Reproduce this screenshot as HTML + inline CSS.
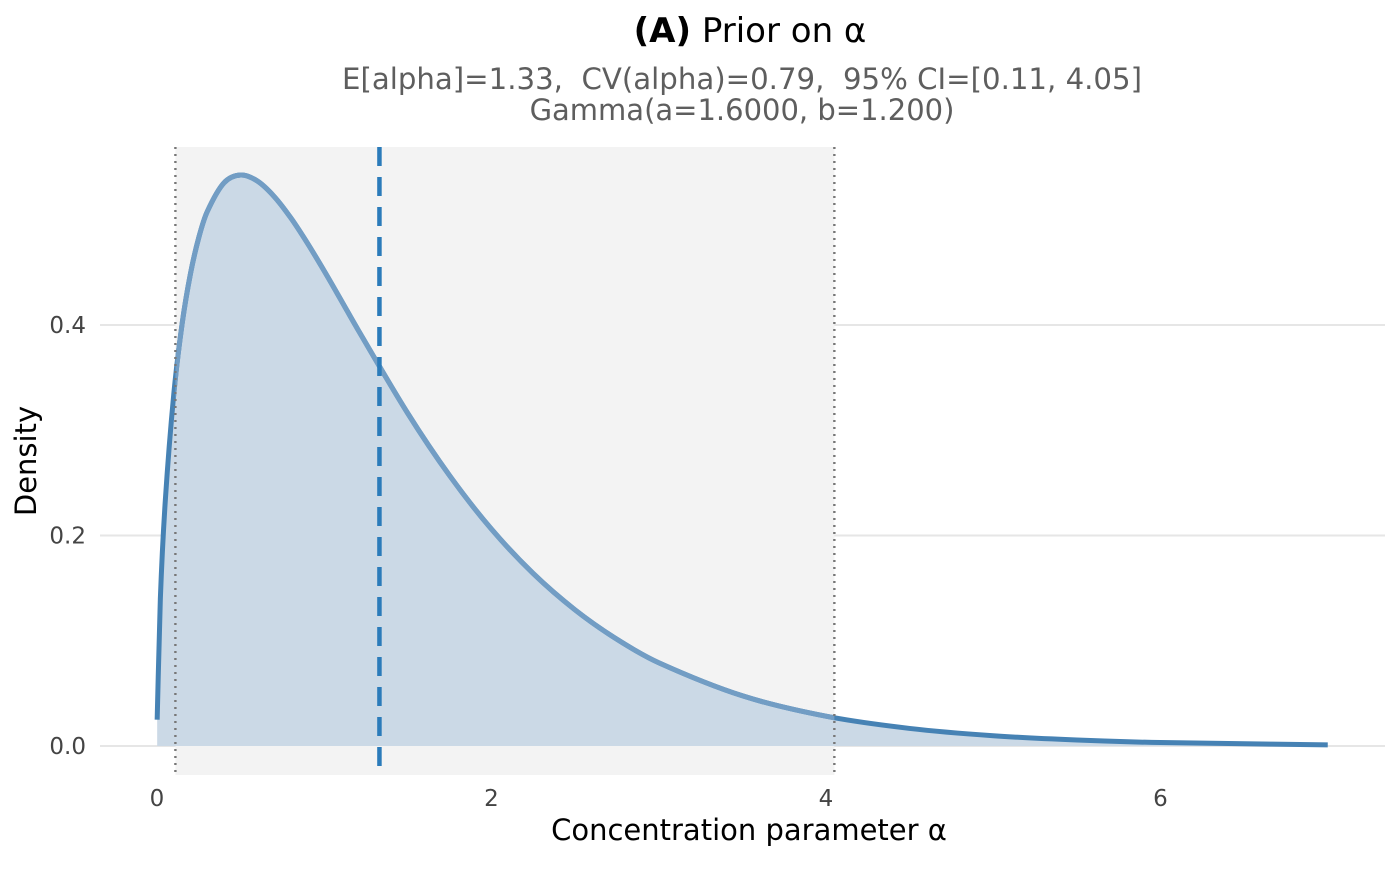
<!DOCTYPE html>
<html><head><meta charset="utf-8"><style>
body{margin:0;background:#fff;}
svg text{font-family:"DejaVu Sans","Liberation Sans",sans-serif;white-space:pre;}
</style></head><body>
<svg width="1400" height="866" viewBox="0 0 1400 866" xmlns="http://www.w3.org/2000/svg">
<text x="750" y="42" text-anchor="middle" font-size="34" fill="#000"><tspan font-weight="bold">(A)</tspan> Prior on α</text>
<text x="742" y="89" text-anchor="middle" font-size="29" textLength="800" lengthAdjust="spacingAndGlyphs" fill="#5e5e5e" xml:space="preserve">E[alpha]=1.33,  CV(alpha)=0.79,  95% CI=[0.11, 4.05]</text>
<text x="742" y="120" text-anchor="middle" font-size="29" fill="#5e5e5e">Gamma(a=1.6000, b=1.200)</text>
<g id="plot"></g>
<text x="749" y="840" text-anchor="middle" font-size="29" fill="#000">Concentration parameter α</text>
<text transform="translate(36,461) rotate(-90)" text-anchor="middle" font-size="29" fill="#000">Density</text>
</svg>
<script>
const xs=[0.001,0.02,0.05,0.1,0.15,0.2,0.25,0.3,0.4,0.5,0.6,0.7,0.8,0.9,1.0,1.1,1.2,1.5,1.75,2.0,2.25,2.5,2.75,3.0,3.5,4.0,4.5,5.0,5.5,6.0,7.0];
const ys=[0.025,0.1398,0.234,0.3338,0.401,0.4487,0.4832,0.5076,0.535,0.5425,0.5368,0.5222,0.5018,0.4776,0.4513,0.4238,0.396,0.3159,0.2568,0.206,0.1638,0.1293,0.1014,0.0791,0.0477,0.0283,0.0167,0.00975,0.00567,0.00328,0.00108];
const xTicks=[0,2,4,6];
const yTicks=[0,0.2,0.4];
const ciLow=0.11, ciHigh=4.05, meanVal=1.33;
const NS="http://www.w3.org/2000/svg";
const X=v=>157+v*167.25, Y=v=>746-v*1052.5;
const g=document.getElementById('plot');
function mk(t,a){const e=document.createElementNS(NS,t);for(const k in a)e.setAttribute(k,a[k]);g.appendChild(e);return e;}
yTicks.forEach(t=>{
 const l=mk('line',{x1:100,x2:1385,y1:Y(t),y2:Y(t),stroke:'#e6e6e6','stroke-width':2});
 
 
 const tx=mk('text',{x:86,y:Y(t)+8,'text-anchor':'end','font-size':23,fill:'#444'});tx.textContent=t.toFixed(1);
 
 
});
xTicks.forEach(t=>{
 const tx=mk('text',{x:X(t),y:806,'text-anchor':'middle','font-size':23,fill:'#444'});tx.textContent=t;
 
 
});
const band=mk('rect',{x:X(ciLow),y:147,width:X(ciHigh)-X(ciLow),height:628,fill:'#f3f3f3'});


function pathD(){const pts=xs.map((x,i)=>[X(x),Y(ys[i])]);const n=pts.length;
 const m=pts.map((p,i)=>{const a=pts[Math.max(0,i-1)],b=pts[Math.min(n-1,i+1)];return (b[1]-a[1])/(b[0]-a[0]);});
 let d='M'+pts[0].join(',');
 for(let i=0;i<n-1;i++){const p1=pts[i],p2=pts[i+1],h=(p2[0]-p1[0])/3;
  d+=` C${p1[0]+h},${p1[1]+m[i]*h} ${p2[0]-h},${p2[1]-m[i+1]*h} ${p2[0]},${p2[1]}`;}
 return d;}
const d=pathD();
const area=mk('path',{d:d+` L${X(xs[xs.length-1])},${Y(0)} L${X(xs[0])},${Y(0)} Z`,fill:'#cbd9e6'});


const defs=mk('defs',{});const cp=document.createElementNS(NS,'clipPath');cp.setAttribute('id','bc');
const cr=document.createElementNS(NS,'rect');cr.setAttribute('x',X(ciLow));cr.setAttribute('y',0);cr.setAttribute('width',X(ciHigh)-X(ciLow));cr.setAttribute('height',866);cp.appendChild(cr);defs.appendChild(cp);
const line=mk('path',{d:d,fill:'none',stroke:'#4682b4','stroke-width':5});


const line2=mk('path',{d:d,fill:'none',stroke:'#729dc4','stroke-width':5,'clip-path':'url(#bc)'});


[ciLow,ciHigh].forEach(v=>{const l=mk('line',{x1:X(v),x2:X(v),y1:147,y2:775,stroke:'#777','stroke-width':2.4,'stroke-dasharray':'2 5'});
 
 });
const mm=mk('line',{x1:X(meanVal),x2:X(meanVal),y1:147,y2:775,stroke:'#2b7bba','stroke-width':4.5,'stroke-dasharray':'19 11'});


</script>
</body></html>
